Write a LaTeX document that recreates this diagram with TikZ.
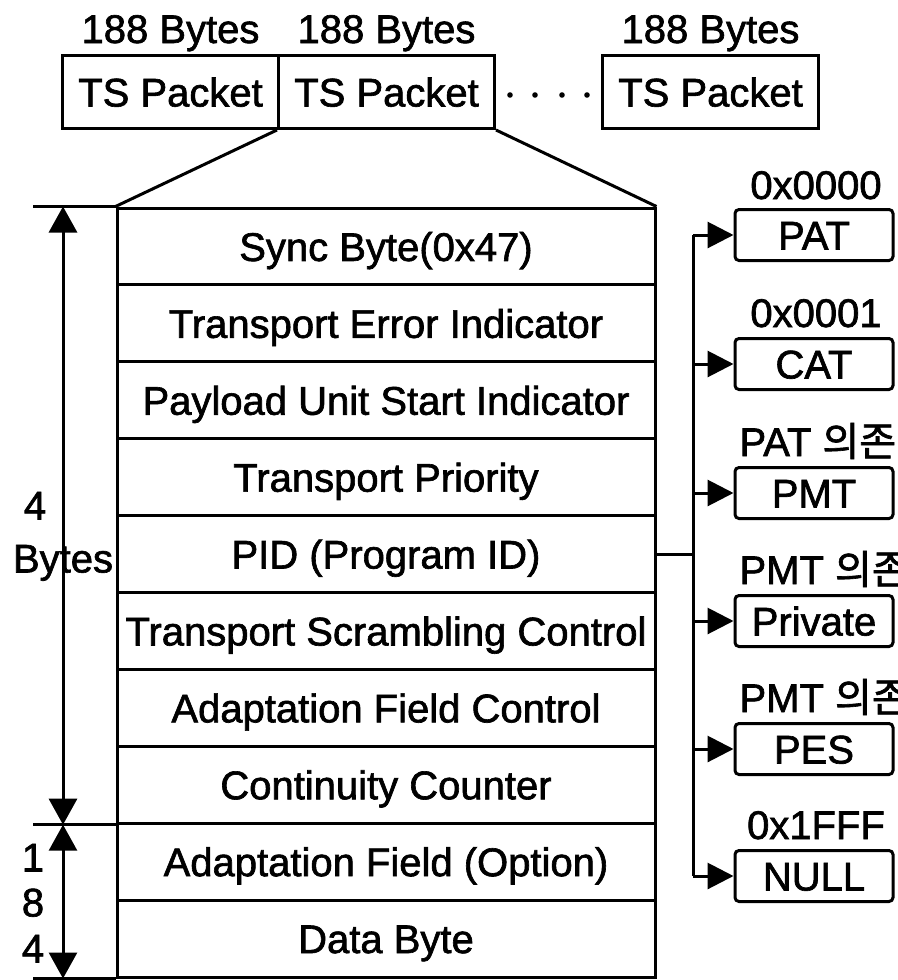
\documentclass[tikz,border=0pt]{standalone}
\usepackage{fontspec}
\setmainfont{Liberation Sans}[RawFeature={embolden=1.6}]
\newfontfamily\krfont{Noto Sans CJK KR}[RawFeature={embolden=1.6}]
\usetikzlibrary{arrows.meta}
\begin{document}
\begin{tikzpicture}[x=1pt,y=-1pt,line width=3pt,
  txt/.style={font=\fontsize{40}{40}\selectfont,inner sep=0pt,text height=29pt,text depth=0pt},
  pkt/.style={txt,draw,minimum width=216pt,minimum height=73pt},
  rowbox/.style={txt,draw,minimum width=538pt,minimum height=76.9pt},
  tbox/.style={txt,draw,rounded corners=4pt,minimum width=158pt,minimum height=51pt},
  arr/.style={-{Triangle[length=26pt,width=26pt]}},
  dim/.style={{Triangle[length=26pt,width=28pt]}-{Triangle[length=26pt,width=28pt]}},
  lab/.style={font=\fontsize{40}{40}\selectfont,inner sep=0pt,anchor=base}]
\useasboundingbox (0,0) rectangle (897,980);
% top packets
\node[pkt] (p1) at (170.5,92) {TS Packet};
\node[pkt] (p2) at (386.5,92) {TS Packet};
\node[pkt] (p3) at (710.5,92) {TS Packet};
\node[lab] (b1) at (p1 |- 0,43) {188 Bytes};
\node[lab] (b2) at (p2 |- 0,43) {188 Bytes};
\node[lab] (b3) at (p3 |- 0,43) {188 Bytes};
\foreach \xx in {510,535,562,587} \fill (\xx,95) circle (2.8pt);
% table rows
\foreach \i/\t in {1/{Sync Byte(0x47)},2/{Transport Error Indicator},3/{Payload Unit Start Indicator},4/{Transport Priority},5/{PID (Program ID)},6/{Transport Scrambling Control},7/{Adaptation Field Control},8/{Continuity Counter},9/{Adaptation Field (Option)},10/{Data Byte}}
  \node[rowbox] (r\i) at (386,{208+76.9*(\i-0.5)}) {\t};
% trapezoid
\draw (p2.south west) -- (r1.north west);
\draw (p2.south east) -- (r1.north east);
% left dimensions
\coordinate (dimx) at (63,0);
\coordinate (extx) at (33,0);
\draw (extx |- r1.north) -- (r1.north west);
\draw (extx |- r8.south) -- (r8.south west);
\draw (extx |- r10.south) -- (r10.south west);
\draw[dim] (dimx |- r1.north) -- (dimx |- r8.south);
\draw[dim] (dimx |- r8.south) -- (dimx |- r10.south);
\node[txt] (four) at (35,505) {4};
\node[txt] (bytes) at (63,558) {Bytes};
\node[txt] (n1) at (33,857) {1};
\node[txt] (n8) at (33,902) {8};
\node[txt] (n4) at (33,948) {4};
% right boxes
\node[tbox] (pat) at (814,235) {PAT};
\node[tbox] (cat) at (814,364) {CAT};
\node[tbox] (pmt) at (814,493) {PMT};
\node[tbox] (prv) at (814,621) {Private};
\node[tbox] (pes) at (814,749) {PES};
\node[tbox] (nul) at (814,876) {NULL};
\node[lab] (l1) at (816,199) {0x0000};
\node[lab] (l2) at (816,327) {0x0001};
\node[lab,anchor=base west] (l3) at (738,456) {PAT {\krfont 의존}};
\node[lab,anchor=base west] (l4) at (738,584) {PMT {\krfont 의존}};
\node[lab,anchor=base west] (l5) at (738,712) {PMT {\krfont 의존}};
\node[lab] (l6) at (816,839) {0x1FFF};
% bus
\coordinate (bus) at (693,0);
\draw (r5.east) -- (bus |- r5.east);
\draw (bus |- pat.west) -- (bus |- nul.west);
\foreach \b in {pat,cat,pmt,prv,pes,nul}
  \draw[arr] (bus |- \b.west) -- (\b.west);
\end{tikzpicture}
\end{document}
